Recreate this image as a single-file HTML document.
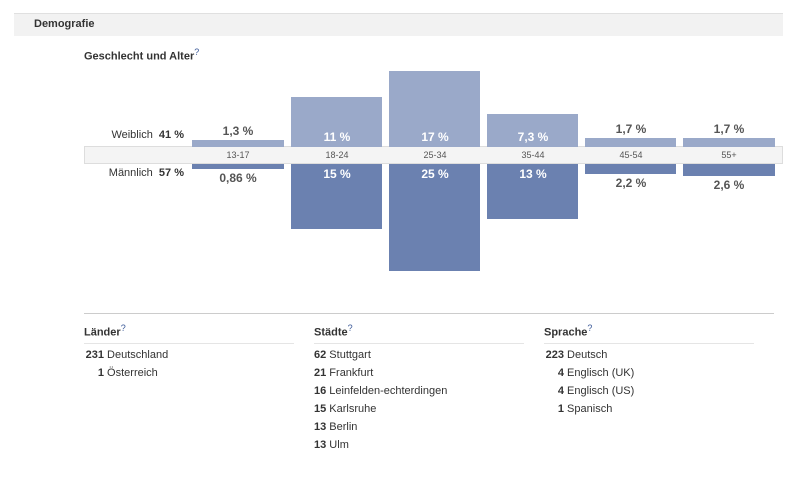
<!DOCTYPE html>
<html><head><meta charset="utf-8"><style>
body{margin:0;width:793px;height:491px;background:#fff;font-family:"Liberation Sans",Tahoma,sans-serif;position:relative;overflow:hidden;color:#333}
.a{position:absolute}
.f{position:absolute;background:#9aa9c9}
.m{position:absolute;background:#6b81b0}
.lab{position:absolute;font-size:12px;font-weight:bold;text-align:center;width:92px}
.w{color:#fff}.g{color:#555}
.age{position:absolute;top:147px;width:92px;text-align:center;font-size:9px;color:#555;line-height:17px}
.h{position:absolute;top:323px;font-size:11px;font-weight:bold;color:#333;border-bottom:1px solid #e5e5e5;padding-bottom:4px;width:210px}
.h sup{color:#3b5998;font-size:9px;font-weight:normal}
.row{position:absolute;font-size:11px;color:#333}
.row b{display:inline-block;text-align:right}
</style></head><body>
<div class="a" style="left:14px;top:13px;width:769px;height:22px;background:#f2f2f2;border-top:1px solid #e0e0e0"></div>
<div class="a" style="left:34px;top:18px;font-size:11px;font-weight:bold;color:#333">Demografie</div>
<div class="a" style="left:84px;top:47px;font-size:11px;font-weight:bold;color:#333">Geschlecht und Alter<sup style="color:#3b5998;font-size:9px;font-weight:normal">?</sup></div>

<div class="a" style="left:84px;top:146px;width:699px;height:18px;background:#f4f4f4;border:1px solid #ddd;box-sizing:border-box"></div>

<div class="f" style="left:192px;top:140px;width:92px;height:7px"></div>
<div class="f" style="left:291px;top:97px;width:91px;height:50px"></div>
<div class="f" style="left:389px;top:71px;width:91px;height:76px"></div>
<div class="f" style="left:487px;top:114px;width:91px;height:33px"></div>
<div class="f" style="left:585px;top:138px;width:91px;height:9px"></div>
<div class="f" style="left:683px;top:138px;width:92px;height:9px"></div>

<div class="m" style="left:192px;top:164px;width:92px;height:5px"></div>
<div class="m" style="left:291px;top:164px;width:91px;height:65px"></div>
<div class="m" style="left:389px;top:164px;width:91px;height:107px"></div>
<div class="m" style="left:487px;top:164px;width:91px;height:55px"></div>
<div class="m" style="left:585px;top:164px;width:91px;height:10px"></div>
<div class="m" style="left:683px;top:164px;width:92px;height:12px"></div>

<div class="age" style="left:192px">13-17</div>
<div class="age" style="left:291px">18-24</div>
<div class="age" style="left:389px">25-34</div>
<div class="age" style="left:487px">35-44</div>
<div class="age" style="left:585px">45-54</div>
<div class="age" style="left:683px">55+</div>

<div class="lab g" style="left:192px;top:124px">1,3 %</div>
<div class="lab w" style="left:291px;top:130px">11 %</div>
<div class="lab w" style="left:389px;top:130px">17 %</div>
<div class="lab w" style="left:487px;top:130px">7,3 %</div>
<div class="lab g" style="left:585px;top:122px">1,7 %</div>
<div class="lab g" style="left:683px;top:122px">1,7 %</div>

<div class="lab g" style="left:192px;top:171px">0,86 %</div>
<div class="lab w" style="left:291px;top:167px">15 %</div>
<div class="lab w" style="left:389px;top:167px">25 %</div>
<div class="lab w" style="left:487px;top:167px">13 %</div>
<div class="lab g" style="left:585px;top:176px">2,2 %</div>
<div class="lab g" style="left:683px;top:178px">2,6 %</div>

<div class="a" style="left:84px;top:129px;width:100px;text-align:right;font-size:11px;color:#333">Weiblich&nbsp; <b>41 %</b></div>
<div class="a" style="left:84px;top:167px;width:100px;text-align:right;font-size:11px;color:#333">Männlich&nbsp; <b>57 %</b></div>

<div class="a" style="left:84px;top:313px;width:690px;height:1px;background:#ccc"></div>

<div class="h" style="left:84px">Länder<sup>?</sup></div>
<div class="h" style="left:314px">Städte<sup>?</sup></div>
<div class="h" style="left:544px">Sprache<sup>?</sup></div>

<div class="row" style="left:84px;top:349px"><b style="width:20px">231</b> Deutschland</div>
<div class="row" style="left:84px;top:367px"><b style="width:20px">1</b> Österreich</div>

<div class="row" style="left:314px;top:349px"><b>62</b> Stuttgart</div>
<div class="row" style="left:314px;top:367px"><b>21</b> Frankfurt</div>
<div class="row" style="left:314px;top:385px"><b>16</b> Leinfelden-echterdingen</div>
<div class="row" style="left:314px;top:403px"><b>15</b> Karlsruhe</div>
<div class="row" style="left:314px;top:421px"><b>13</b> Berlin</div>
<div class="row" style="left:314px;top:439px"><b>13</b> Ulm</div>

<div class="row" style="left:544px;top:349px"><b style="width:20px">223</b> Deutsch</div>
<div class="row" style="left:544px;top:367px"><b style="width:20px">4</b> Englisch (UK)</div>
<div class="row" style="left:544px;top:385px"><b style="width:20px">4</b> Englisch (US)</div>
<div class="row" style="left:544px;top:403px"><b style="width:20px">1</b> Spanisch</div>
</body></html>
